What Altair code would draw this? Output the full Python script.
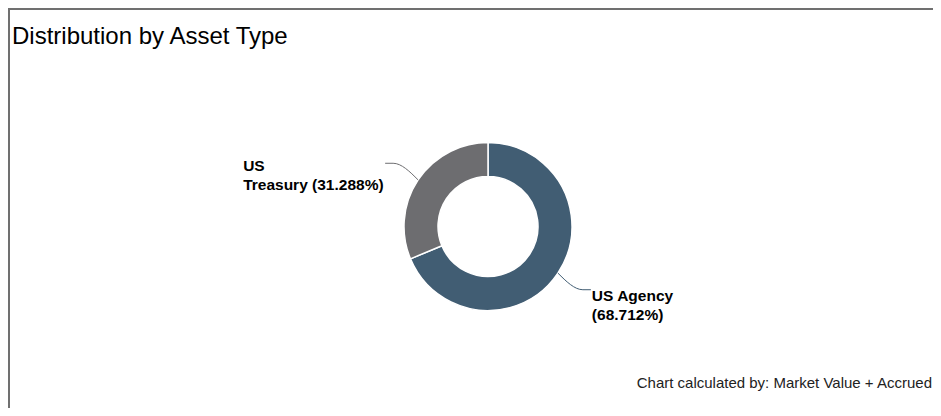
import altair as alt
import pandas as pd

# ---- data ----
categories = ["US Agency", "US Treasury"]
shares = [68.712, 31.288]
labels = ["US Agency\n(68.712%)", "US\nTreasury (31.288%)"]
colors = ["#415d73", "#6d6d70"]

title_text = "Distribution by Asset Type"
footer_text = "Chart calculated by: Market Value + Accrued"

# ---- layout constants (pixels inside the chart) ----
W, H = 925, 400
CX, CY = 480, 218.5
R_OUT, R_IN = 84, 50
R_BEND, STUB = 114, 8
LEFT_BLOCK = 142

df = pd.DataFrame({
    "idx": list(range(len(categories))),
    "category": categories,
    "share": shares,
    "label": labels,
})

color_scale = alt.Scale(domain=categories, range=colors)
base = alt.Chart(df)

arcs = base.mark_arc(innerRadius=R_IN, outerRadius=R_OUT, stroke="white", strokeWidth=1.5).encode(
    theta=alt.Theta("share:Q", stack=True),
    color=alt.Color("category:N", scale=color_scale, legend=None),
    order=alt.Order("idx:Q"),
    x=alt.value(CX),
    y=alt.value(CY),
)

def with_mid(ch):
    return (
        ch.transform_joinaggregate(total="sum(share)")
        .transform_window(cum="sum(share)", sort=[alt.SortField("idx")], frame=[None, 0])
        .transform_calculate(mid="(datum.cum - datum.share/2)/datum.total*2*PI")
        .transform_calculate(side="sin(datum.mid) >= 0 ? 1 : -1")
    )

leaders = (
    with_mid(base)
    .transform_calculate(pts="[0,1,2]")
    .transform_flatten(["pts"])
    .transform_calculate(r=f"datum.pts == 0 ? {R_OUT} : {R_BEND}")
    .transform_calculate(
        px=f"{CX} + datum.r*sin(datum.mid) + (datum.pts == 2 ? datum.side*{STUB} : 0)",
        py=f"{CY} - datum.r*cos(datum.mid)",
    )
    .mark_line(strokeWidth=1, interpolate="monotone")
    .encode(
        x=alt.X("px:Q", scale=None, axis=None),
        y=alt.Y("py:Q", scale=None, axis=None),
        color=alt.Color("category:N", scale=color_scale, legend=None),
        detail="category:N",
        order="pts:Q",
    )
)

texts = (
    with_mid(base)
    .transform_calculate(
        ex=f"{CX} + {R_BEND}*sin(datum.mid) + datum.side*{STUB}",
        ey=f"{CY} - {R_BEND}*cos(datum.mid)",
    )
    .transform_calculate(
        tx=f"datum.side > 0 ? datum.ex + 1 : datum.ex - {LEFT_BLOCK}",
        ty="datum.side > 0 ? datum.ey - 1 : datum.ey - 4",
    )
    .mark_text(align="left", baseline="top", fontSize=15.5, fontWeight="bold",
               font="Liberation Sans, Arial", color="#000000", lineBreak="\n", lineHeight=19)
    .encode(
        x=alt.X("tx:Q", scale=None, axis=None),
        y=alt.Y("ty:Q", scale=None, axis=None),
        text="label:N",
    )
)

one = alt.Data(values=[{"a": 1}])

title = alt.Chart(one).mark_text(
    text=title_text, align="left", baseline="alphabetic", fontSize=24,
    font="Liberation Sans, Arial", color="#000000",
).encode(x=alt.value(4), y=alt.value(36))

footer = alt.Chart(one).mark_text(
    text=footer_text, align="right", baseline="alphabetic", fontSize=15,
    font="Liberation Sans, Arial", color="#222222",
).encode(x=alt.value(W - 1), y=alt.value(379.5))

left_border = alt.Chart(one).mark_rule(color="#707070", strokeWidth=2).encode(
    x=alt.value(1), y=alt.value(0), y2=alt.value(H))
top_border = alt.Chart(one).mark_rule(color="#707070", strokeWidth=2).encode(
    x=alt.value(0), x2=alt.value(W), y=alt.value(1))

chart = alt.layer(arcs, leaders, texts, title, footer, left_border, top_border).properties(
    width=W, height=H, padding=0, autosize=alt.AutoSizeParams(type="none"),
    background="white",
).configure_view(stroke=None)

chart.save("out.html", embed_options={"renderer": "svg", "actions": False})
